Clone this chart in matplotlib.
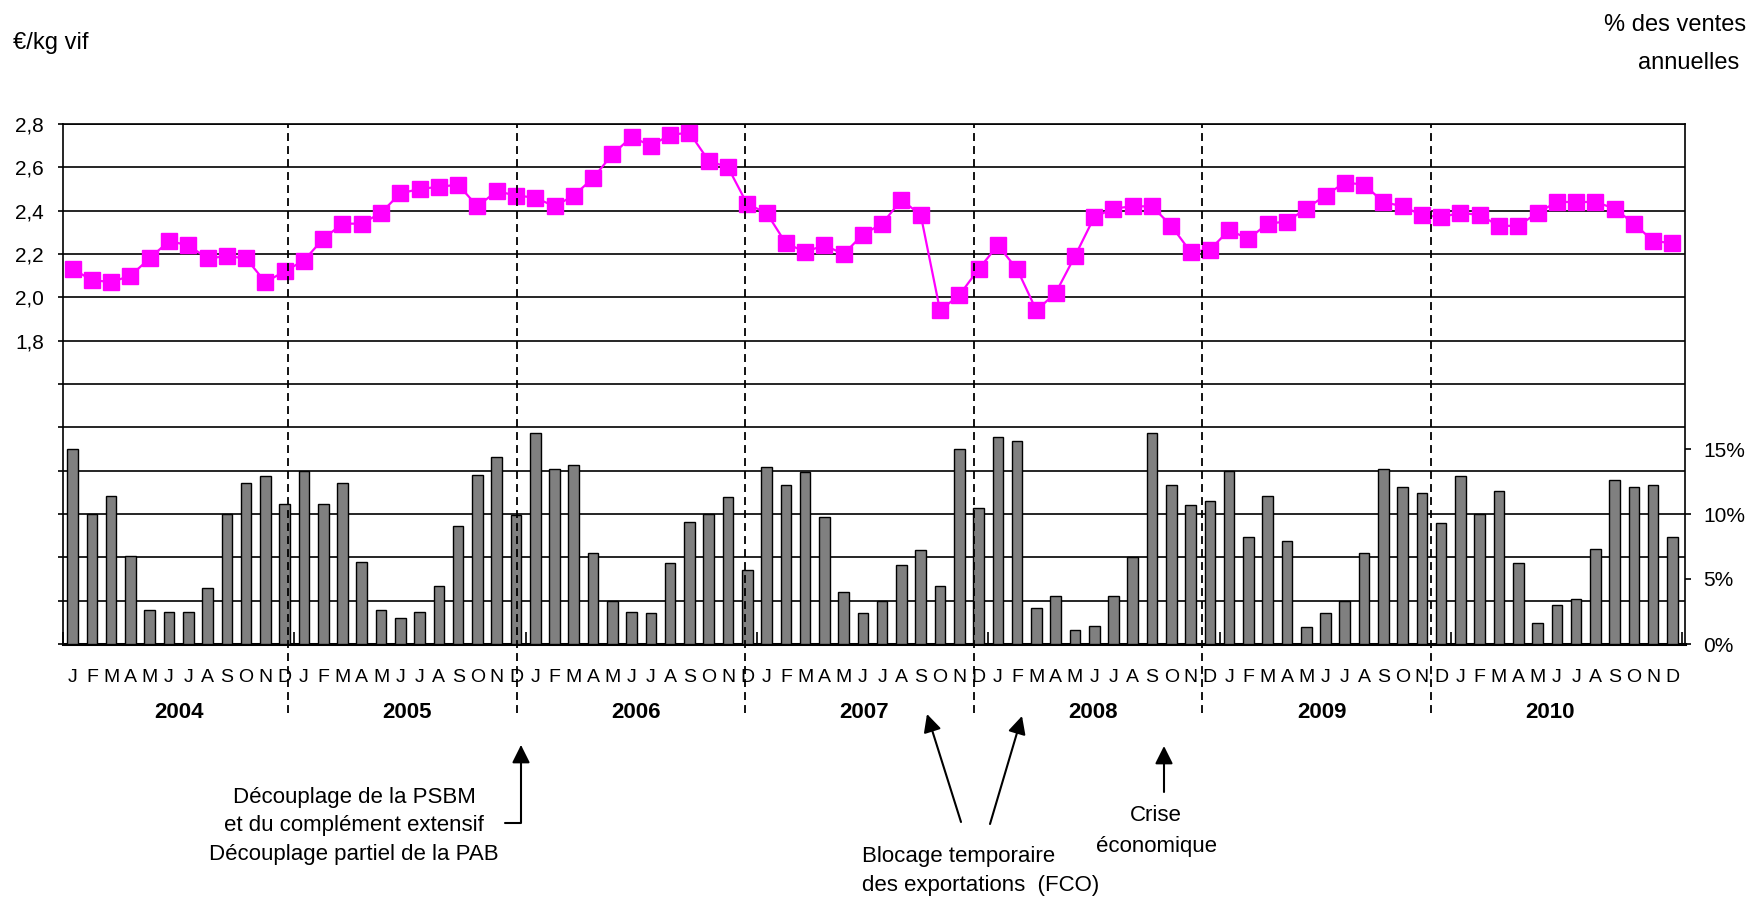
import numpy as np
import matplotlib
matplotlib.use('Agg')
import matplotlib.pyplot as plt

# prix moyen mensuel (euros/kg vif), janvier 2004 -> decembre 2010
prix = [2.13, 2.08, 2.07, 2.10, 2.18, 2.26, 2.24, 2.18, 2.19, 2.18, 2.07, 2.12,
        2.17, 2.27, 2.34, 2.34, 2.39, 2.48, 2.50, 2.51, 2.52, 2.42, 2.49, 2.47,
        2.46, 2.42, 2.47, 2.55, 2.66, 2.74, 2.70, 2.75, 2.76, 2.63, 2.60, 2.43,
        2.39, 2.25, 2.21, 2.24, 2.20, 2.29, 2.34, 2.45, 2.38, 1.94, 2.01, 2.13,
        2.24, 2.13, 1.94, 2.02, 2.19, 2.37, 2.41, 2.42, 2.42, 2.33, 2.21, 2.22,
        2.31, 2.27, 2.34, 2.35, 2.41, 2.47, 2.53, 2.52, 2.44, 2.42, 2.38, 2.37,
        2.39, 2.38, 2.33, 2.33, 2.39, 2.44, 2.44, 2.44, 2.41, 2.34, 2.26, 2.25]

# part des ventes annuelles (%)
ventes = [15.0, 10.0, 11.4, 6.8, 2.6, 2.5, 2.5, 4.3, 10.0, 12.4, 12.9, 10.8,
          13.3, 10.8, 12.4, 6.3, 2.6, 2.0, 2.5, 4.5, 9.1, 13.0, 14.4, 9.9,
          16.2, 13.5, 13.8, 7.0, 3.3, 2.5, 2.4, 6.2, 9.4, 10.0, 11.3, 5.7,
          13.6, 12.2, 13.2, 9.8, 4.0, 2.4, 3.3, 6.1, 7.2, 4.5, 15.0, 10.5,
          15.9, 15.6, 2.8, 3.7, 1.1, 1.4, 3.7, 6.7, 16.2, 12.2, 10.7, 11.0,
          13.3, 8.2, 11.4, 7.9, 1.3, 2.4, 3.3, 7.0, 13.5, 12.1, 11.6, 9.3,
          12.9, 10.0, 11.8, 6.2, 1.6, 3.0, 3.5, 7.3, 12.6, 12.1, 12.2, 8.2]

mois = ['J', 'F', 'M', 'A', 'M', 'J', 'J', 'A', 'S', 'O', 'N', 'D']
annees = ['2004', '2005', '2006', '2007', '2008', '2009', '2010']

prix_ticks = [0.4, 0.6, 0.8, 1.0, 1.2, 1.4, 1.6, 1.8, 2.0, 2.2, 2.4, 2.6, 2.8]
prix_labels = ['', '', '', '', '', '', '', '1,8', '2,0', '2,2', '2,4', '2,6', '2,8']
ventes_ticks = [0, 5, 10, 15]

plt.rcParams['font.family'] = ['Liberation Sans', 'DejaVu Sans']

W, H = 1751, 901
fig = plt.figure(figsize=(W / 100, H / 100), dpi=100)
x0, x1, ytop, ybot = 63, 1685, 124, 644
ax = fig.add_axes([x0 / W, 1 - ybot / H, (x1 - x0) / W, (ybot - ytop) / H])
x = np.arange(len(prix))

# courbe de prix + grille
ax.plot(x, prix, color='#FF00FF', lw=1.6, marker='s', ms=11.5, mec='#FF00FF', zorder=3)
ax.set_ylim(0.4, 2.8)
ax.set_xlim(-0.5, 83.65)
ax.set_yticks(prix_ticks)
ax.set_yticklabels(prix_labels, fontsize=15)
ax.tick_params(axis='y', direction='out', length=3.6, width=1.2, pad=10)
ax.grid(axis='y', color='black', lw=1.2)
ax.set_axisbelow(True)
for s in ax.spines.values():
    s.set_linewidth(1.2)
ax.spines['bottom'].set_linewidth(2.2)

ax.set_xticks(x)
ax.set_xticklabels(mois * len(annees), fontsize=14)
ax.tick_params(axis='x', which='major', length=0, pad=18)
ax.set_xticks([-0.5 + 12 * k for k in range(8)], minor=True)
ax.tick_params(axis='x', which='minor', direction='in', length=9, width=1.2)

# barres des ventes
ax2 = ax.twinx()
ax2.bar(x, ventes, width=0.55, color='#808080', edgecolor='black', lw=1.0, zorder=2)
ax2.set_ylim(0, 40)
ax2.set_yticks(ventes_ticks)
ax2.set_yticklabels(['%d%%' % v for v in ventes_ticks], fontsize=15)
ax2.tick_params(axis='y', direction='out', length=4, width=1.2, pad=9)
for s in ax2.spines.values():
    s.set_visible(False)

# separations entre annees
for k in range(6):
    ax2.axvline(11.17 + 11.86 * k, ymin=-0.133, ymax=1, clip_on=False,
                color='black', lw=1.3, ls=(0, (4.4, 2.8)), zorder=5)
for k, an in enumerate(annees):
    ax.text(5.5 + 11.86 * k, -0.131, an, transform=ax.get_xaxis_transform(),
            ha='center', va='center', fontsize=16, fontweight='bold')

# titres d'axes
fig.text(13 / W, 1 - 43 / H, '€/kg vif', ha='left', va='center', fontsize=17)
fig.text(1675 / W, 1 - 25 / H, '% des ventes', ha='center', va='center', fontsize=17)
fig.text(1689 / W, 1 - 63 / H, 'annuelles', ha='center', va='center', fontsize=17)

# annotations
fs = 16
fig.text(354 / W, 1 - 826 / H, 'Découplage de la PSBM\net du complément extensif\nDécouplage partiel de la PAB',
         ha='center', va='center', fontsize=fs, linespacing=1.45)
fig.text(862 / W, 1 - 871 / H, 'Blocage temporaire\ndes exportations  (FCO)',
         ha='left', va='center', fontsize=fs, linespacing=1.55)
fig.text(1156 / W, 1 - 831 / H, 'Crise\néconomique',
         ha='center', va='center', fontsize=fs, linespacing=1.6)

arr = dict(arrowstyle='-|>,head_length=0.9,head_width=0.45', color='black', lw=1.5,
           mutation_scale=12, shrinkA=0, shrinkB=0)
fig_px = 'figure pixels'
ax.annotate('', xy=(521, H - 745), xytext=(505, H - 823), xycoords=fig_px, textcoords=fig_px,
            arrowprops=dict(arr, connectionstyle='angle,angleA=0,angleB=90,rad=0'))
ax.annotate('', xy=(927, H - 714), xytext=(961, H - 822), xycoords=fig_px, textcoords=fig_px,
            arrowprops=arr)
ax.annotate('', xy=(1022, H - 716), xytext=(990, H - 824), xycoords=fig_px, textcoords=fig_px,
            arrowprops=arr)
ax.annotate('', xy=(1164, H - 746), xytext=(1164, H - 792), xycoords=fig_px, textcoords=fig_px,
            arrowprops=arr)

fig.savefig('out.png', dpi=100)
